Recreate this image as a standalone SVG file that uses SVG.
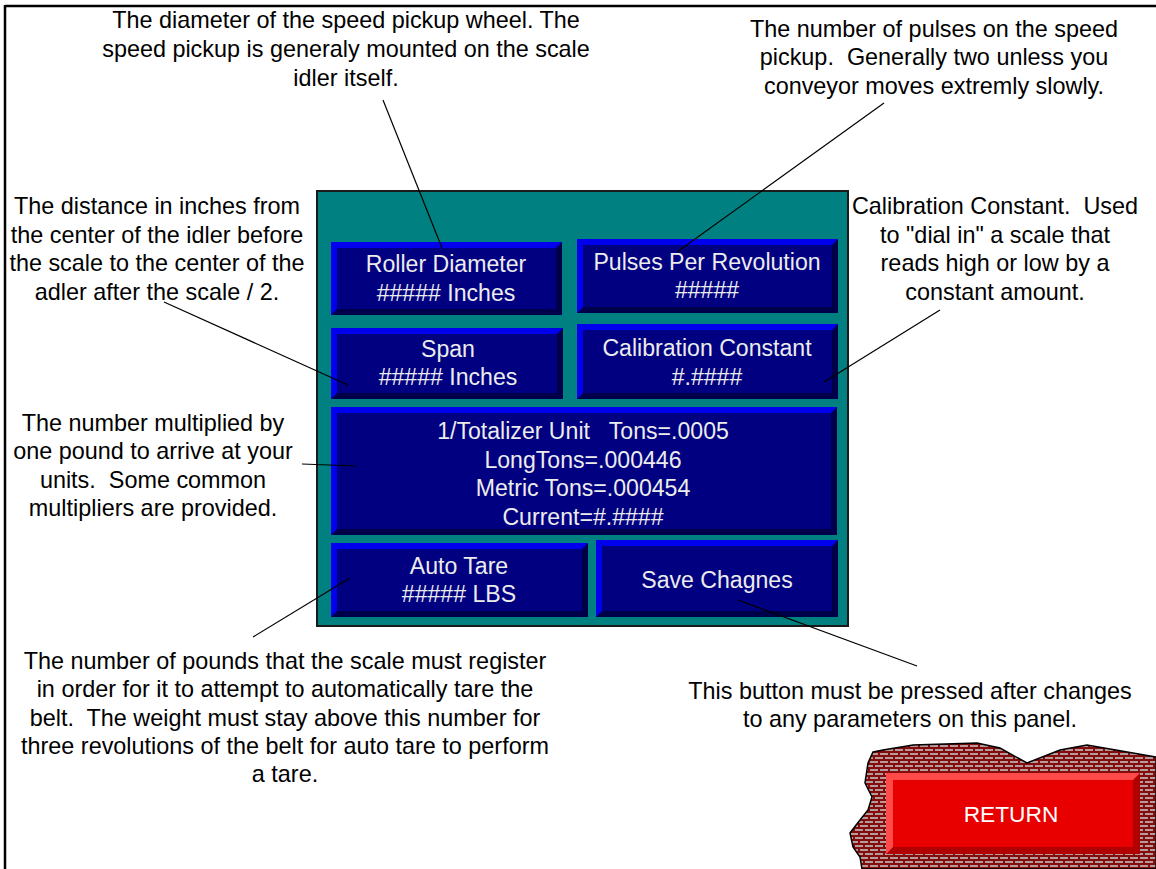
<svg xmlns="http://www.w3.org/2000/svg" width="1156" height="869" viewBox="0 0 1156 869">
  <style>
    .note { font-family: "Liberation Sans", Arial, sans-serif; font-size: 23.4px; fill: #000; text-anchor: middle; white-space: pre; }
    .btn  { font-family: "Liberation Sans", Arial, sans-serif; font-size: 23.1px; fill: #ececec; text-anchor: middle; white-space: pre; }
    .ret  { font-family: "Liberation Sans", Arial, sans-serif; font-size: 22.7px; fill: #ffffff; text-anchor: middle; }
    .lead { stroke: #000; stroke-width: 1.2; fill: none; }
    .bev-dark { fill: #00004a; }
    .bev-lite { fill: #0000ee; }
    .face { fill: #000080; }
  </style>
  <defs>
    <pattern id="brick" width="10" height="8" patternUnits="userSpaceOnUse">
      <rect width="10" height="8" fill="#850c0c"/>
      <rect x="0" y="1" width="8" height="2" fill="#b49c9c"/>
      <rect x="5" y="5" width="5" height="2" fill="#b49c9c"/>
      <rect x="0" y="5" width="3" height="2" fill="#b49c9c"/>
    </pattern>
  </defs>

  <rect width="1156" height="869" fill="#ffffff"/>
  <!-- window frame -->
  <line x1="5" y1="6" x2="1156" y2="6" stroke="#000" stroke-width="2.5"/>
  <line x1="5" y1="5" x2="5" y2="869" stroke="#000" stroke-width="2.5"/>

  <!-- main parameter panel -->
  <g id="panel">
    <rect x="317" y="191" width="531" height="435" fill="#008080" stroke="#1a1a1a" stroke-width="2"/>
  </g>

  <g id="btn-roller">
    <rect class="bev-dark" x="331" y="242" width="231" height="73"/>
    <polygon class="bev-lite" points="331,242 562,242 556,248 337,248 337,309 331,315"/>
    <rect class="face" x="337" y="248" width="219" height="61"/>
    <text class="btn" x="446" y="272">Roller Diameter</text>
    <text class="btn" x="446" y="301">##### Inches</text>
  </g>

  <g id="btn-pulses">
    <rect class="bev-dark" x="577" y="239" width="261" height="74"/>
    <polygon class="bev-lite" points="577,239 838,239 832,245 583,245 583,307 577,313"/>
    <rect class="face" x="583" y="245" width="249" height="62"/>
    <text class="btn" x="707" y="270">Pulses Per Revolution</text>
    <text class="btn" x="707" y="298">#####</text>
  </g>

  <g id="btn-span">
    <rect class="bev-dark" x="331" y="328" width="232" height="71"/>
    <polygon class="bev-lite" points="331,328 563,328 557,334 337,334 337,393 331,399"/>
    <rect class="face" x="337" y="334" width="220" height="59"/>
    <text class="btn" x="448" y="357">Span</text>
    <text class="btn" x="448" y="385">##### Inches</text>
  </g>

  <g id="btn-calibration">
    <rect class="bev-dark" x="577" y="324" width="261" height="75"/>
    <polygon class="bev-lite" points="577,324 838,324 832,330 583,330 583,393 577,399"/>
    <rect class="face" x="583" y="330" width="249" height="63"/>
    <text class="btn" x="707" y="356">Calibration Constant</text>
    <text class="btn" x="707" y="385">#.####</text>
  </g>

  <g id="btn-totalizer">
    <rect class="bev-dark" x="331" y="407" width="506" height="128"/>
    <polygon class="bev-lite" points="331,407 837,407 831,413 337,413 337,529 331,535"/>
    <rect class="face" x="337" y="413" width="494" height="116"/>
    <text class="btn" x="583" y="439">1/Totalizer Unit   Tons=.0005</text>
    <text class="btn" x="583" y="468">LongTons=.000446</text>
    <text class="btn" x="583" y="496">Metric Tons=.000454</text>
    <text class="btn" x="583" y="525">Current=#.####</text>
  </g>

  <g id="btn-autotare">
    <rect class="bev-dark" x="331" y="543" width="257" height="74"/>
    <polygon class="bev-lite" points="331,543 588,543 582,549 337,549 337,611 331,617"/>
    <rect class="face" x="337" y="549" width="245" height="62"/>
    <text class="btn" x="459" y="574">Auto Tare</text>
    <text class="btn" x="459" y="602">##### LBS</text>
  </g>

  <g id="btn-save">
    <rect class="bev-dark" x="596" y="540" width="242" height="77"/>
    <polygon class="bev-lite" points="596,540 838,540 832,546 602,546 602,611 596,617"/>
    <rect class="face" x="602" y="546" width="230" height="65"/>
    <text class="btn" x="717" y="588">Save Chagnes</text>
  </g>

  <!-- return button on brick backing -->
  <g id="btn-return">
    <polygon fill="url(#brick)" stroke="#000" stroke-width="1.5"
      points="873,752 883,750 913,745 977,743 1000,748 1027,763 1060,750 1087,745 1133,753 1156,757 1156,869 862,869 860,857 853,847 850,833 860,820 868,810 872,797 865,783 868,763"/>
    <rect x="886" y="773" width="254" height="81" fill="#b00000"/>
    <polygon points="886,773 1140,773 1133,780 893,780 893,847 886,854" fill="#ff4a4a"/>
    <rect x="893" y="780" width="240" height="67" fill="#e80000"/>
    <text class="ret" x="1011" y="822">RETURN</text>
  </g>

  <!-- annotations -->
  <g id="note-roller">
    <text class="note" x="346" y="28">The diameter of the speed pickup wheel. The</text>
    <text class="note" x="346" y="57">speed pickup is generaly mounted on the scale</text>
    <text class="note" x="346" y="86">idler itself.</text>
  </g>
  <g id="note-pulses">
    <text class="note" x="934" y="37">The number of pulses on the speed</text>
    <text class="note" x="934" y="65">pickup.  Generally two unless you</text>
    <text class="note" x="934" y="94">conveyor moves extremly slowly.</text>
  </g>
  <g id="note-span">
    <text class="note" x="157" y="214">The distance in inches from</text>
    <text class="note" x="157" y="243">the center of the idler before</text>
    <text class="note" x="157" y="271">the scale to the center of the</text>
    <text class="note" x="157" y="300">adler after the scale / 2.</text>
  </g>
  <g id="note-calibration">
    <text class="note" x="995" y="214">Calibration Constant.  Used</text>
    <text class="note" x="995" y="243">to "dial in" a scale that</text>
    <text class="note" x="995" y="271">reads high or low by a</text>
    <text class="note" x="995" y="300">constant amount.</text>
  </g>
  <g id="note-multiplier">
    <text class="note" x="153" y="431">The number multiplied by</text>
    <text class="note" x="153" y="459">one pound to arrive at your</text>
    <text class="note" x="153" y="488">units.  Some common</text>
    <text class="note" x="153" y="516">multipliers are provided.</text>
  </g>
  <g id="note-autotare">
    <text class="note" x="285" y="669">The number of pounds that the scale must register</text>
    <text class="note" x="285" y="697">in order for it to attempt to automatically tare the</text>
    <text class="note" x="285" y="726">belt.  The weight must stay above this number for</text>
    <text class="note" x="285" y="754">three revolutions of the belt for auto tare to perform</text>
    <text class="note" x="285" y="782">a tare.</text>
  </g>
  <g id="note-save">
    <text class="note" x="910" y="699">This button must be pressed after changes</text>
    <text class="note" x="910" y="727">to any parameters on this panel.</text>
  </g>

  <!-- leader lines -->
  <g id="connectors">
    <line class="lead" x1="383" y1="100" x2="442" y2="248"/>
    <line class="lead" x1="884" y1="103" x2="677" y2="252"/>
    <line class="lead" x1="164" y1="302" x2="348" y2="385"/>
    <line class="lead" x1="940" y1="310" x2="824" y2="382"/>
    <line class="lead" x1="302" y1="464" x2="356" y2="466"/>
    <line class="lead" x1="253" y1="637" x2="350" y2="578"/>
    <line class="lead" x1="738" y1="600" x2="917" y2="666"/>
  </g>
</svg>
